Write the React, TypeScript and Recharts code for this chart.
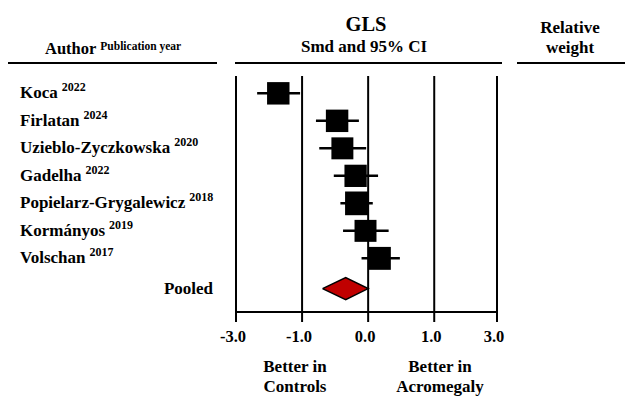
import React from "react";
import {
  ScatterChart, Scatter, XAxis, YAxis, CartesianGrid, ErrorBar,
} from "recharts";

const authors = ["Koca", "Firlatan", "Uzieblo-Zyczkowska", "Gadelha", "Popielarz-Grygalewicz", "Kormányos", "Volschan"];
const years = ["2022", "2024", "2020", "2022", "2018", "2019", "2017"];
const smd = [-1.36, -0.47, -0.39, -0.19, -0.17, -0.04, 0.17];
const ciLow = [-1.68, -0.79, -0.74, -0.52, -0.42, -0.38, -0.10];
const ciHigh = [-1.03, -0.14, -0.03, 0.15, 0.07, 0.31, 0.48];
const weights = [14.2, 14.2, 13.9, 14.1, 15.0, 13.9, 14.5];

const pooled = { est: -0.34, lo: -0.69, hi: 0.0 };
const POOLED_ROW = 7.1;

// axis is drawn evenly spaced but labelled -3, -1, 0, 1, 3
const tickValues = [-2, -1, 0, 1, 1.95];
const tickLabels = ["-3.0", "-1.0", "0.0", "1.0", "3.0"];

const FONT = '"Liberation Serif", "Times New Roman", serif';

const rows = authors.map((_, i) => i);
const studies = authors.map((a, i) => ({
  row: i,
  est: smd[i],
  err: [smd[i] - ciLow[i], ciHigh[i] - smd[i]],
  weight: weights[i],
}));

const DH = 0.4; // half height of diamond, in rows
const diamond = [
  { x: pooled.lo, y: POOLED_ROW },
  { x: pooled.est, y: POOLED_ROW - DH },
  { x: pooled.hi, y: POOLED_ROW },
  { x: pooled.est, y: POOLED_ROW + DH },
  { x: pooled.lo, y: POOLED_ROW },
];

const AuthorTick = (props: any) => {
  const { y, payload } = props;
  const v = payload.value;
  if (v === POOLED_ROW) {
    return (
      <text x={213} y={y} dy={5} textAnchor="end" fontFamily={FONT} fontWeight="bold" fontSize={17} fill="#000">
        Pooled
      </text>
    );
  }
  const i = rows.indexOf(v);
  if (i < 0) return null;
  return (
    <text x={20} y={y} dy={5} fontFamily={FONT} fontWeight="bold" fontSize={17} fill="#000">
      {authors[i]}
      <tspan dx={4} dy={-7} fontSize={12}>{years[i]}</tspan>
    </text>
  );
};

const WeightTick = (props: any) => {
  const { y, payload } = props;
  const i = rows.indexOf(payload.value);
  if (i < 0) return null;
  return (
    <text x={570} y={y} dy={0} textAnchor="middle" fontFamily={FONT} fontWeight="bold" fontSize={16.5} fill="#000">
      {weights[i].toFixed(1)}
    </text>
  );
};

const BoxShape = (props: any) => {
  const { cx, cy, payload } = props;
  const s = payload.weight * 1.58;
  return <rect x={cx - s / 2} y={cy - s / 2} width={s} height={s} fill="#000" />;
};

const txt = { fontFamily: FONT, fontWeight: "bold" as const, fill: "#000" };

export default function App() {
  return (
    <div style={{ position: "relative", width: 625, height: 396, background: "#fff" }}>
      <style>{`body{margin:0}`}</style>
      <ScatterChart width={625} height={396} margin={{ top: 76, right: 0, bottom: 0, left: 0 }}>
        <CartesianGrid horizontal={false} stroke="#000" strokeWidth={2} />
        <XAxis
          type="number"
          dataKey="est"
          domain={[-2, 1.95]}
          ticks={tickValues}
          allowDataOverflow
          height={84}
          tickSize={10}
          tickMargin={8}
          axisLine={{ stroke: "#000", strokeWidth: 2 }}
          tickLine={{ stroke: "#000", strokeWidth: 2 }}
          tick={{ fontFamily: FONT, fontWeight: "bold", fontSize: 16.5, fill: "#000", dx: -3 }}
          tickFormatter={(v: number) => tickLabels[tickValues.indexOf(v)] ?? ""}
        />
        <YAxis
          yAxisId="l"
          type="number"
          dataKey="row"
          domain={[-0.63, 7.95]}
          reversed
          ticks={[...rows, POOLED_ROW]}
          width={236}
          axisLine={false}
          tickLine={false}
          tick={<AuthorTick />}
        />
        <YAxis
          yAxisId="r"
          orientation="right"
          type="number"
          dataKey="row"
          domain={[-0.63, 7.95]}
          reversed
          ticks={rows}
          width={128}
          axisLine={false}
          tickLine={false}
          tick={<WeightTick />}
        />
        <Scatter yAxisId="l" data={studies} dataKey="row" shape={<BoxShape />} isAnimationActive={false}>
          <ErrorBar dataKey="err" direction="x" width={0} stroke="#000" strokeWidth={2.5} isAnimationActive={false} />
        </Scatter>
        <Scatter
          yAxisId="l"
          data={diamond.map((d) => ({ est: d.x, row: d.y }))}
          dataKey="row"
          line={{ fill: "#c00000", stroke: "#000", strokeWidth: 1.5 }}
          lineType="joint"
          shape={() => <g />}
          isAnimationActive={false}
        />
      </ScatterChart>
      <svg width={625} height={396} style={{ position: "absolute", left: 0, top: 0, pointerEvents: "none" }}>
        <line x1={8} y1={63} x2={217} y2={63} stroke="#000" strokeWidth={2} />
        <line x1={235} y1={63} x2={502} y2={63} stroke="#000" strokeWidth={2} />
        <line x1={517} y1={63} x2={625} y2={63} stroke="#000" strokeWidth={2} />
        <text x={45} y={54} fontSize={16.5} {...txt}>
          Author<tspan dx={4} dy={-4} fontSize={11.5}>Publication year</tspan>
        </text>
        <text x={366} y={31} fontSize={20.5} textAnchor="middle" {...txt}>GLS</text>
        <text x={364} y={52} fontSize={17} textAnchor="middle" {...txt}>Smd and 95% CI</text>
        <text x={570} y={33} fontSize={17} textAnchor="middle" {...txt}>Relative</text>
        <text x={570} y={53} fontSize={17} textAnchor="middle" {...txt}>weight</text>
        <text x={295} y={372} fontSize={17} textAnchor="middle" {...txt}>Better in</text>
        <text x={295} y={392} fontSize={17} textAnchor="middle" {...txt}>Controls</text>
        <text x={440} y={372} fontSize={17} textAnchor="middle" {...txt}>Better in</text>
        <text x={440} y={392} fontSize={17} textAnchor="middle" {...txt}>Acromegaly</text>
      </svg>
    </div>
  );
}
